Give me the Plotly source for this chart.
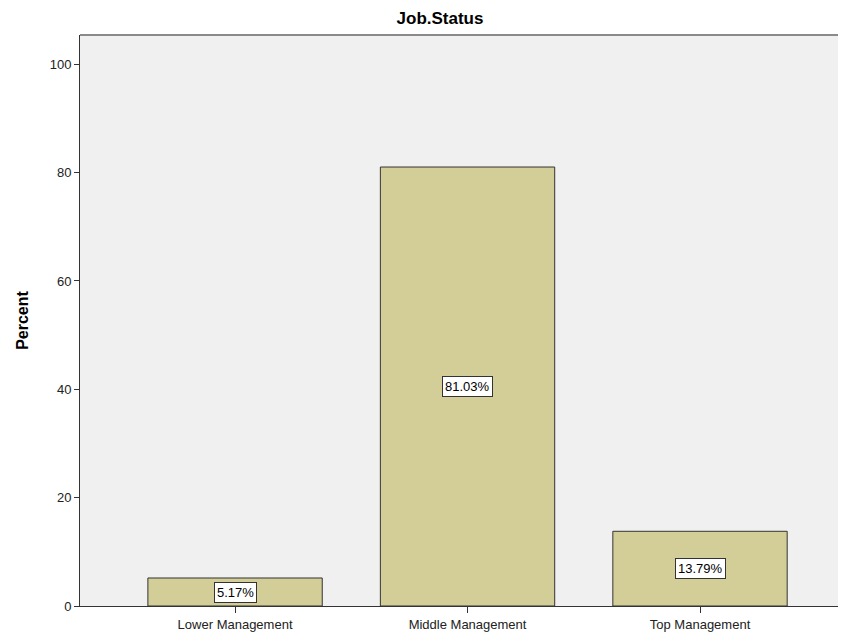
import plotly.graph_objects as go

categories = ["Lower Management", "Middle Management", "Top Management"]
percents = [5.17, 81.03, 13.79]
labels = ["5.17%", "81.03%", "13.79%"]
y_ticks = [0, 20, 40, 60, 80, 100]

fig = go.Figure()
fig.add_trace(go.Bar(
    x=categories, y=percents, width=0.75,
    marker=dict(color="#d3ce97", line=dict(color="#333333", width=1)),
    hoverinfo="skip", showlegend=False,
))

for c, v, t in zip(categories, percents, labels):
    fig.add_annotation(
        x=c, y=v / 2, xref="x", yref="y", text=t, showarrow=False,
        font=dict(family="Liberation Sans, Arial", size=13, color="#000"),
        bgcolor="white", bordercolor="#333333", borderwidth=1, borderpad=2,
    )

fig.add_shape(type="line", xref="paper", yref="paper", x0=0, x1=1, y0=1, y1=1,
              line=dict(color="#8a8a8a", width=2))

fig.update_layout(
    width=838, height=626,
    margin=dict(l=72, r=0, t=27, b=28),
    paper_bgcolor="white", plot_bgcolor="#f0f0f0",
    title=dict(text="<b>Job.Status</b>", x=0.47, xref="paper", xanchor="center",
               y=0.984, yref="container", yanchor="middle",
               font=dict(family="Liberation Sans, Arial", size=17, color="#000")),
    font=dict(family="Liberation Sans, Arial", size=13, color="#222"),
    bargap=0.25,
)
fig.update_xaxes(
    type="category", range=[-0.667, 2.628], showgrid=False, zeroline=False,
    showline=True, linecolor="#333333", linewidth=1,
    ticks="outside", ticklen=6, tickcolor="#333333",
    tickfont=dict(size=13, color="#222"),
)
fig.update_yaxes(
    range=[0, 105.4], tickvals=y_ticks, showgrid=False, zeroline=False,
    showline=True, linecolor="#333333", linewidth=1,
    ticks="outside", ticklen=5, tickcolor="#333333",
    tickfont=dict(size=13, color="#222"),
    title=dict(text="<b>Percent</b>", font=dict(size=16, color="#000"), standoff=17),
)

fig.write_html("out.html")
